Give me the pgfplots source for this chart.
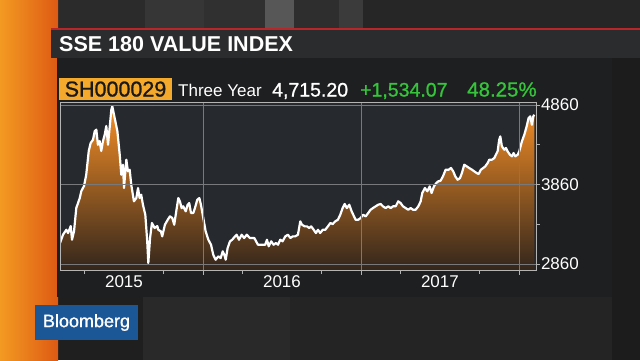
\documentclass[border=0pt]{standalone}
\usepackage{pgfplots}
\pgfplotsset{compat=1.18}
\usepackage{pgfplotstable}
\usepackage{fontspec}
\setmainfont{Liberation Sans}
\newfontfamily\semib{Liberation Sans}[FakeBold=1.0]
\definecolor{bgdark}{HTML}{1C1C1C}
\definecolor{plotbg}{HTML}{26292E}
\definecolor{panel}{HTML}{1E1F21}
\definecolor{titlebar}{HTML}{2B2C2E}
\definecolor{redline}{HTML}{B8262A}
\definecolor{framec}{HTML}{B4B4B4}
\definecolor{gridc}{HTML}{77797D}
\definecolor{fillTop}{HTML}{F58E26}
\definecolor{fillBot}{HTML}{33261C}
\definecolor{tagor}{HTML}{F4A82C}
\definecolor{upgreen}{HTML}{35C43A}
\definecolor{bbblue}{HTML}{1B5797}
\definecolor{orA}{HTML}{F39A22}
\definecolor{orB}{HTML}{DE5A14}
\pgfplotstableread{
x y
2015.095 3124
2015.114 3229
2015.135 3291
2015.146 3250
2015.163 3338
2015.171 3166
2015.184 3275
2015.198 3564
2015.220 3690
2015.230 3778
2015.247 3841
2015.261 3983
2015.277 4282
2015.289 4382
2015.304 4424
2015.315 4533
2015.325 4550
2015.335 4361
2015.346 4407
2015.356 4282
2015.367 4407
2015.378 4487
2015.388 4596
2015.399 4361
2015.409 4571
2015.420 4801
2015.426 4844
2015.441 4697
2015.458 4533
2015.473 4235
2015.483 3983
2015.494 4109
2015.500 3816
2015.515 4172
2015.525 4026
2015.536 4046
2015.546 3858
2015.563 3649
2015.578 3690
2015.589 3816
2015.599 3690
2015.609 3732
2015.620 3606
2015.635 3480
2015.647 3149
2015.654 2873
2015.665 3187
2015.677 3376
2015.694 3313
2015.711 3338
2015.717 3291
2015.734 3271
2015.742 3208
2015.759 3354
2015.777 3417
2015.791 3460
2015.806 3439
2015.818 3354
2015.834 3564
2015.844 3690
2015.854 3649
2015.865 3564
2015.875 3586
2015.891 3523
2015.903 3606
2015.913 3627
2015.924 3502
2015.939 3502
2015.949 3564
2015.964 3669
2015.977 3690
2015.987 3606
2016.002 3439
2016.017 3271
2016.034 3166
2016.051 3103
2016.065 2977
2016.080 2914
2016.097 2957
2016.112 2935
2016.125 3020
2016.135 2977
2016.144 2914
2016.156 3061
2016.171 3146
2016.185 3166
2016.203 3208
2016.213 3229
2016.228 3166
2016.245 3229
2016.261 3187
2016.277 3229
2016.297 3187
2016.325 3187
2016.348 3103
2016.373 3103
2016.394 3103
2016.405 3166
2016.416 3083
2016.432 3146
2016.447 3103
2016.462 3124
2016.475 3103
2016.489 3166
2016.504 3146
2016.521 3208
2016.538 3229
2016.553 3187
2016.568 3208
2016.584 3208
2016.601 3229
2016.616 3397
2016.627 3354
2016.644 3334
2016.658 3334
2016.673 3313
2016.685 3334
2016.701 3291
2016.715 3250
2016.728 3291
2016.742 3250
2016.758 3291
2016.774 3291
2016.791 3334
2016.806 3376
2016.821 3363
2016.837 3397
2016.854 3417
2016.869 3480
2016.884 3564
2016.897 3615
2016.911 3564
2016.926 3606
2016.941 3523
2016.956 3460
2016.966 3417
2016.983 3417
2016.998 3439
2017.013 3480
2017.030 3460
2017.046 3502
2017.061 3543
2017.076 3564
2017.093 3586
2017.109 3606
2017.125 3615
2017.139 3586
2017.156 3564
2017.173 3586
2017.188 3564
2017.203 3586
2017.220 3586
2017.236 3649
2017.251 3627
2017.266 3586
2017.283 3564
2017.299 3543
2017.315 3564
2017.329 3543
2017.346 3543
2017.363 3586
2017.378 3649
2017.388 3753
2017.405 3816
2017.420 3775
2017.435 3837
2017.447 3753
2017.462 3837
2017.477 3879
2017.489 3900
2017.504 3908
2017.519 3963
2017.536 4046
2017.555 4046
2017.570 4068
2017.584 4026
2017.597 3963
2017.612 3920
2017.627 3942
2017.639 4005
2017.654 4109
2017.669 4089
2017.685 4068
2017.703 4046
2017.717 4026
2017.732 4005
2017.745 3992
2017.759 4046
2017.774 4068
2017.787 4089
2017.802 4131
2017.812 4172
2017.829 4172
2017.844 4193
2017.854 4235
2017.865 4278
2017.875 4424
2017.882 4466
2017.892 4341
2017.907 4298
2017.918 4319
2017.928 4278
2017.943 4235
2017.956 4215
2017.966 4256
2017.977 4215
2017.992 4235
2018.002 4278
2018.019 4404
2018.034 4487
2018.049 4592
2018.061 4697
2018.072 4718
2018.082 4612
2018.091 4718
2018.097 4738
}\ssedata
\begin{document}
\begin{tikzpicture}
\useasboundingbox (0pt,0pt) rectangle (640pt,360pt);
\begin{scope}[x=1pt,y=1pt]
\fill[bgdark] (0,0) rectangle (640,360);
% top studio bands
\fill[black!83] (57,332) rectangle (145,360);
\fill[black!79] (145,332) rectangle (204,360);
\fill[black!81] (204,332) rectangle (265,360);
\fill[black!66] (265,332) rectangle (294,360);
\fill[black!82] (294,332) rectangle (339,360);
\fill[black!77] (339,332) rectangle (363,360);
\fill[black!85] (363,332) rectangle (640,360);
% bottom studio area
\fill[black!88] (57,0) rectangle (143,63);
\fill[black!84] (143,0) rectangle (290,63);
\fill[black!86] (290,0) rectangle (612,63);
\fill[black!89] (612,0) rectangle (640,302);
% orange strip
\shade[left color=orA, right color=orB] (0,0) rectangle (58,360);
% title bar
\fill[titlebar] (51,302) rectangle (640,331);
\fill[redline] (51,330) rectangle (640,332.5);
\node[anchor=base west, inner sep=0, text=white, font=\fontsize{21.5pt}{22pt}\selectfont\bfseries] at (59,309) {SSE 180 VALUE INDEX};
% panel
\fill[panel] (57,63) rectangle (612,302);
% header row
\fill[tagor] (59,260) rectangle (172,282);
\node[anchor=base, inner sep=0, text=black!90, font=\semib\fontsize{21.5pt}{22pt}\selectfont] at (115.5,263.5) {SH000029};
\node[anchor=base west, inner sep=0, text=white, font=\fontsize{17pt}{18pt}\selectfont] at (178,263.5) {Three Year};
\node[anchor=base west, inner sep=0, text=white, font=\semib\fontsize{19.5pt}{20pt}\selectfont] at (272,263.5) {4,715.20};
\node[anchor=base west, inner sep=0, text=upgreen, font=\semib\fontsize{19.5pt}{20pt}\selectfont] at (360,263.5) {+1,534.07};
\node[anchor=base west, inner sep=0, text=upgreen, font=\semib\fontsize{20.5pt}{21pt}\selectfont] at (467,263.5) {48.25\%};
% Bloomberg tag
\fill[bbblue] (35,20) rectangle (138,55);
\node[text=white, inner sep=0, font=\semib\fontsize{18pt}{18pt}\selectfont] at (86.5,37.5) {Bloomberg};
\end{scope}
\begin{axis}[
  at={(60pt,90pt)}, anchor=south west, scale only axis,
  width=476pt, height=168pt,
  xmin=2015.095, xmax=2018.108, ymin=2785, ymax=4898,
  axis on top,
  axis background/.style={fill=plotbg},
  axis line style={draw=framec, line width=0.9pt},
  xtick={2016,2017,2018}, xticklabels={},
  minor xtick={2015.25,2015.75,2016.25,2016.75,2017.25,2017.75},
  extra x ticks={2015.5,2016.5,2017.5},
  extra x tick labels={2015,2016,2017},
  extra x tick style={major tick length=0pt, grid=none},
  xmajorgrids, ymajorgrids,
  grid style={draw=gridc, line width=0.6pt},
  ytick={2860,3860,4860}, yticklabels={2860,3860,4860},
  minor ytick={3360,4360},
  xtick pos=left, ytick pos=right, yticklabel pos=right,
  tick align=outside,
  major tick length=4.5pt, minor tick length=4pt,
  tick style={draw=framec, line width=0.8pt},
  /pgf/number format/assume math mode=true,
  ticklabel style={font=\fontsize{17pt}{17pt}\selectfont, text=white},
  xticklabel style={yshift=-2pt},
  yticklabel style={xshift=-3pt},
]
\addplot[draw=none, top color=fillTop, bottom color=fillBot, forget plot] table {\ssedata} \closedcycle;
\addplot[white, line width=2.2pt, line join=round] table {\ssedata};
\end{axis}
\end{tikzpicture}
\end{document}
